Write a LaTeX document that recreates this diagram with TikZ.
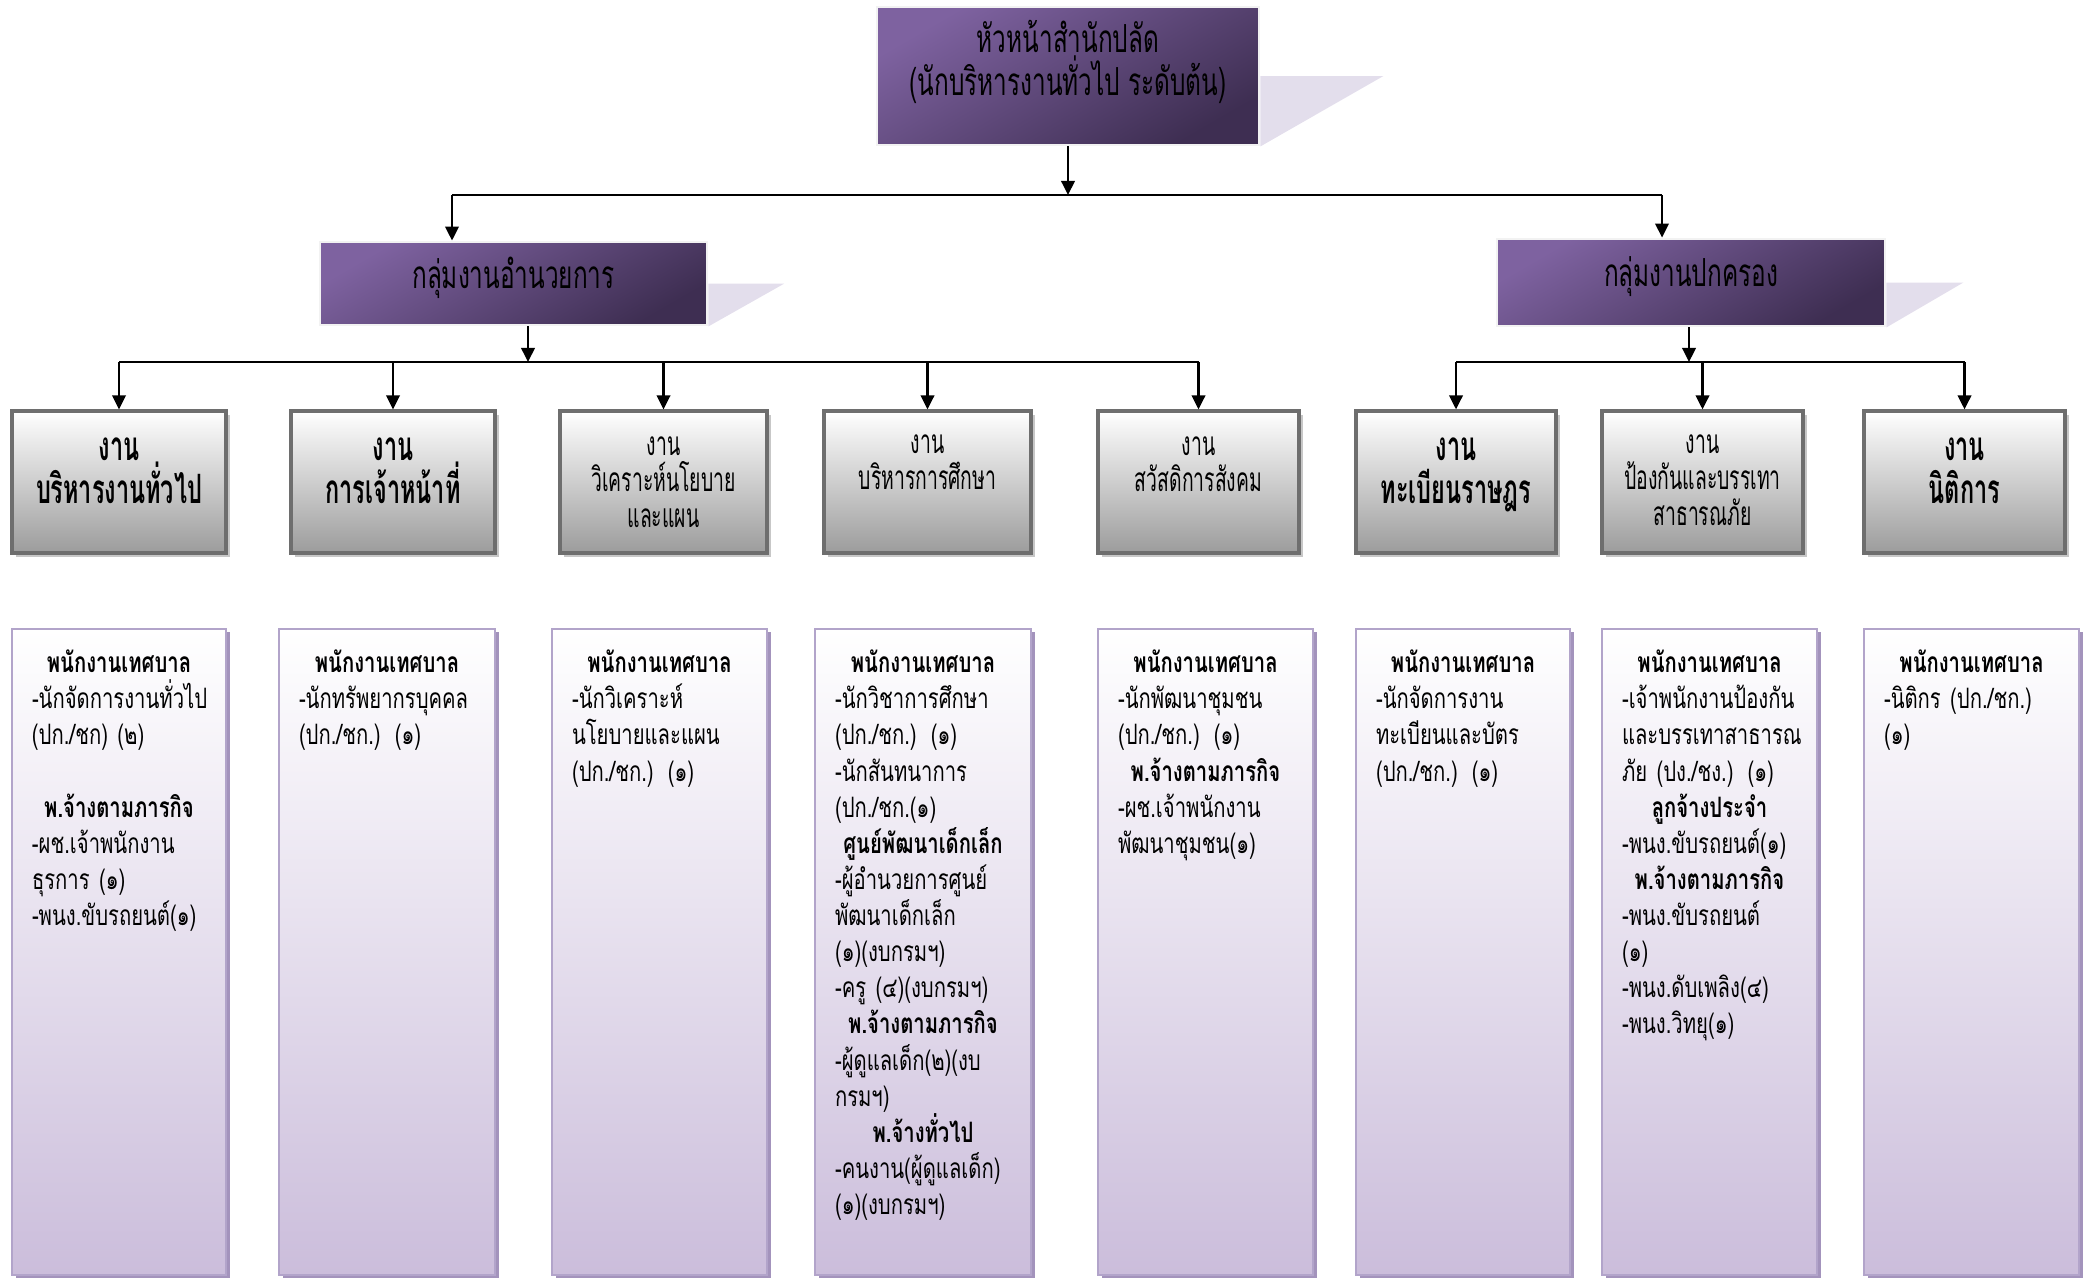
\documentclass[tikz,border=0pt]{standalone}
\usepackage{fontspec}
\usetikzlibrary{arrows.meta,shadows,backgrounds}
\newfontfamily\thaigrp[Script=Thai,FakeStretch=0.63]{Loma}
\newfontfamily\thaiunit[Script=Thai,FakeStretch=0.58]{Loma}
\newfontfamily\thaistaff[Script=Thai,FakeStretch=0.72]{Loma}

\definecolor{purpleLight}{HTML}{7E62A0}
\definecolor{purpleDark}{HTML}{3E2E52}
\definecolor{purpleShade}{HTML}{E3DEEC}
\definecolor{grayBorder}{HTML}{6E6E6E}
\definecolor{grayBottom}{HTML}{9C9C9C}
\definecolor{lilacBorder}{HTML}{B2A4CA}
\definecolor{lilacShadow}{HTML}{A393BC}
\definecolor{lilacBottom}{HTML}{CBBDDB}

% lines inside a staff box
\newcommand{\hd}[1]{\par\centerline{\bfseries #1}}
\newcommand{\li}[1]{\par\mbox{#1}}

\begin{document}
\begin{tikzpicture}[
  headbox/.style={draw=black!5,line width=0.8pt,top color=purpleLight,bottom color=purpleDark,shading angle=30,inner sep=0pt},
  grptext/.style={inner sep=0pt,font=\thaigrp\fontsize{11}{12}\selectfont},
  unitbox/.style={draw=grayBorder,line width=0.9pt,top color=white,bottom color=grayBottom,inner sep=0pt,minimum height=1.42cm,
    drop shadow={shadow xshift=0.035cm,shadow yshift=-0.035cm,fill=black!22,opacity=1}},
  bigtext/.style={anchor=north,inner sep=0pt,align=center,font=\thaiunit\bfseries\fontsize{11.5}{12.2}\selectfont},
  smalltext/.style={anchor=north,inner sep=0pt,align=center,font=\thaiunit\fontsize{9.5}{10.2}\selectfont},
  staffbox/.style={draw=lilacBorder,line width=0.7pt,top color=white,bottom color=lilacBottom,inner sep=0pt,minimum height=6.46cm,
    drop shadow={shadow xshift=0.04cm,shadow yshift=-0.03cm,fill=lilacShadow,opacity=1}},
  stafftext/.style={anchor=north,inner sep=0pt,align=left,font={\thaistaff\fontsize{8}{10.28}\selectfont\parindent=0pt}},
  arr/.style={-{Triangle[width=3.8pt,length=4pt]},line width=0.75pt},
  bus/.style={line width=0.75pt}
  ]
  \useasboundingbox (0,0) rectangle (20.85,-12.78);

  % top level
  \node[headbox,minimum width=3.82cm,minimum height=1.38cm] (head) at (10.68,-0.76) {};
  \node[grptext,align=center,anchor=north] (headtxt) at (10.68,-0.2) {หัวหน้าสำนักปลัด\\(นักบริหารงานทั่วไป ระดับต้น)};

  % group level
  \node[headbox,minimum width=3.87cm,minimum height=0.83cm] (grpA) at (5.135,-2.835) {};
  \node[headbox,minimum width=3.88cm,minimum height=0.87cm] (grpB) at (16.91,-2.825) {};
  \node[grptext] (grpAtxt) at ([yshift=0.055cm]grpA.center) {กลุ่มงานอำนวยการ};
  \node[grptext] (grpBtxt) at ([yshift=0.055cm]grpB.center) {กลุ่มงานปกครอง};

  \begin{scope}[on background layer]
    \fill[purpleShade] (head.east) -- ++(1.23,0) -- (head.south east) -- cycle;
    \fill[purpleShade] (grpA.east) -- ++(0.76,0) -- (grpA.south east) -- cycle;
    \fill[purpleShade] (grpB.east) -- ++(0.77,0) -- (grpB.south east) -- cycle;
  \end{scope}

  % unit level
  \foreach \i/\x/\w in {1/1.19/2.14,2/3.93/2.04,3/6.635/2.07,4/9.275/2.07,5/11.985/2.01,6/14.56/2.00,7/17.025/2.01,8/19.645/2.01}
    \node[unitbox,minimum width=\w cm] (b\i) at (\x,-4.82) {};
  \node[bigtext] (t1) at ([yshift=-0.28cm]b1.north) {งาน\\บริหารงานทั่วไป};
  \node[bigtext] (t2) at ([yshift=-0.28cm]b2.north) {งาน\\การเจ้าหน้าที่};
  \node[smalltext] (t3) at ([yshift=-0.27cm]b3.north) {งาน\\วิเคราะห์นโยบาย\\และแผน};
  \node[smalltext] (t4) at ([yshift=-0.25cm]b4.north) {งาน\\บริหารการศึกษา};
  \node[smalltext] (t5) at ([yshift=-0.27cm]b5.north) {งาน\\สวัสดิการสังคม};
  \node[bigtext] (t6) at ([yshift=-0.28cm]b6.north) {งาน\\ทะเบียนราษฎร};
  \node[smalltext] (t7) at ([yshift=-0.25cm]b7.north) {งาน\\ป้องกันและบรรเทา\\สาธารณภัย};
  \node[bigtext] (t8) at ([yshift=-0.28cm]b8.north) {งาน\\นิติการ};

  % staff level
  \foreach \i/\x/\w in {1/1.19/2.14,2/3.87/2.16,3/6.595/2.15,4/9.23/2.16,5/12.055/2.15,6/14.63/2.14,7/17.095/2.15,8/19.715/2.15}
    \node[staffbox,minimum width=\w cm] (s\i) at (\x,-9.52) {};

  \node[stafftext,text width=1.74cm] (p1) at ([yshift=-0.08cm]s1.north) {\hd{พนักงานเทศบาล}
    \li{-นักจัดการงานทั่วไป}\li{(ปก./ชก) (๒)}\hd{}\hd{พ.จ้างตามภารกิจ}
    \li{-ผช.เจ้าพนักงาน}\li{ธุรการ (๑)}\li{-พนง.ขับรถยนต์(๑)}};
  \node[stafftext,text width=1.76cm] (p2) at ([yshift=-0.08cm]s2.north) {\hd{พนักงานเทศบาล}
    \li{-นักทรัพยากรบุคคล}\li{(ปก./ชก.) (๑)}};
  \node[stafftext,text width=1.75cm] (p3) at ([yshift=-0.08cm]s3.north) {\hd{พนักงานเทศบาล}
    \li{-นักวิเคราะห์}\li{นโยบายและแผน}\li{(ปก./ชก.) (๑)}};
  \node[stafftext,text width=1.76cm] (p4) at ([yshift=-0.08cm]s4.north) {\hd{พนักงานเทศบาล}
    \li{-นักวิชาการศึกษา}\li{(ปก./ชก.) (๑)}\li{-นักสันทนาการ}\li{(ปก./ชก.(๑)}\hd{ศูนย์พัฒนาเด็กเล็ก}
    \li{-ผู้อำนวยการศูนย์}\li{พัฒนาเด็กเล็ก}\li{(๑)(งบกรมฯ)}\li{-ครู (๔)(งบกรมฯ)}\hd{พ.จ้างตามภารกิจ}
    \li{-ผู้ดูแลเด็ก(๒)(งบ}\li{กรมฯ)}\hd{พ.จ้างทั่วไป}
    \li{-คนงาน(ผู้ดูแลเด็ก)}\li{(๑)(งบกรมฯ)}};
  \node[stafftext,text width=1.75cm] (p5) at ([yshift=-0.08cm]s5.north) {\hd{พนักงานเทศบาล}
    \li{-นักพัฒนาชุมชน}\li{(ปก./ชก.) (๑)}\hd{พ.จ้างตามภารกิจ}
    \li{-ผช.เจ้าพนักงาน}\li{พัฒนาชุมชน(๑)}};
  \node[stafftext,text width=1.74cm] (p6) at ([yshift=-0.08cm]s6.north) {\hd{พนักงานเทศบาล}
    \li{-นักจัดการงาน}\li{ทะเบียนและบัตร}\li{(ปก./ชก.) (๑)}};
  \node[stafftext,text width=1.75cm] (p7) at ([yshift=-0.08cm]s7.north) {\hd{พนักงานเทศบาล}
    \li{-เจ้าพนักงานป้องกัน}\li{และบรรเทาสาธารณ}\li{ภัย (ปง./ชง.) (๑)}\hd{ลูกจ้างประจำ}
    \li{-พนง.ขับรถยนต์(๑)}\hd{พ.จ้างตามภารกิจ}
    \li{-พนง.ขับรถยนต์}\li{(๑)}\li{-พนง.ดับเพลิง(๔)}\li{-พนง.วิทยุ(๑)}};
  \node[stafftext,text width=1.75cm] (p8) at ([yshift=-0.08cm]s8.north) {\hd{พนักงานเทศบาล}
    \li{-นิติกร (ปก./ชก.)}\li{(๑)}};

  % connectors
  \coordinate (topbus) at (10.68,-1.95);
  \coordinate (busA) at (4.52,-1.95);
  \coordinate (busB) at (16.62,-1.95);
  \draw[arr] (head.south) -- (topbus);
  \draw[bus] (busA) -- (busB);
  \draw[arr] (busA) -- (busA |- grpA.north);
  \draw[arr] (busB) -- (busB |- grpB.north);

  \coordinate (jA) at (5.28,-3.62);
  \coordinate (jB) at (16.89,-3.62);
  \draw[arr] (jA |- grpA.south) -- (jA);
  \draw[arr] (jB |- grpB.south) -- (jB);
  \draw[bus] (b1 |- jA) -- (b5 |- jA);
  \draw[bus] (b6 |- jB) -- (b8 |- jB);
  \foreach \i in {1,...,5}
    \draw[arr] (b\i |- jA) -- (b\i.north);
  \foreach \i in {6,7,8}
    \draw[arr] (b\i |- jB) -- (b\i.north);
\end{tikzpicture}
\end{document}
